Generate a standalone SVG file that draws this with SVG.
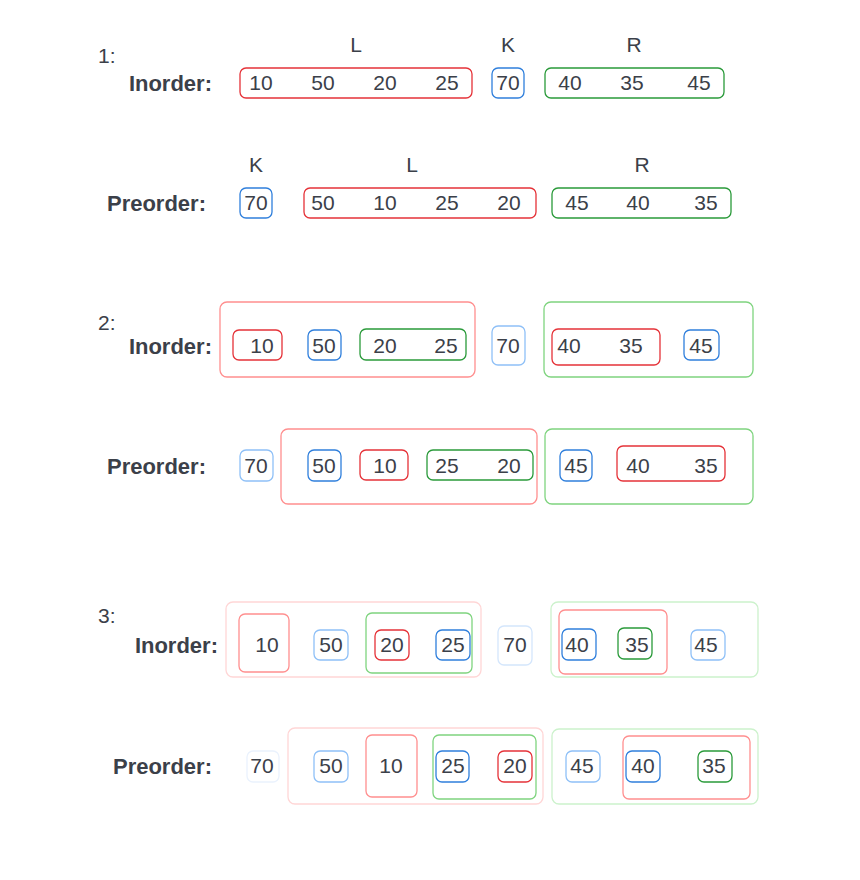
<svg xmlns="http://www.w3.org/2000/svg" width="860" height="880" viewBox="0 0 860 880">
<style>
text{font-family:"Liberation Sans",Arial,sans-serif;fill:#3b4049}
.n{font-size:21px;text-anchor:middle}
.lab{font-size:22px;font-weight:bold;text-anchor:end}
.h{font-size:21px;text-anchor:middle}
.s{font-size:21px}
rect{fill:none;stroke-width:1.3}
.r{stroke:#e53238}
.b{stroke:#2f7fdc}
.g{stroke:#2a9a3a}
.r2{stroke:#ff8f8f}
.b2{stroke:#8fc0f7}
.g2{stroke:#7fd47f}
.r3{stroke:#ffd6d6}
.b3{stroke:#d4e6fc}
.g3{stroke:#ccf2cc}
.b4{stroke:#eaf2fd}
</style>
<rect width="860" height="880" fill="#fff" stroke="none"/>

<g id="step1">
  <text class="s" x="98" y="63">1:</text>
  <text class="h" x="356" y="52">L</text>
  <text class="h" x="508" y="52">K</text>
  <text class="h" x="634" y="52">R</text>
  <text class="lab" x="212" y="91">Inorder:</text>
  <g id="s1-in-L"><rect class="r" x="240" y="68" width="232" height="30" rx="6"/>
    <text class="n" x="261" y="90">10</text><text class="n" x="323" y="90">50</text><text class="n" x="385" y="90">20</text><text class="n" x="447" y="90">25</text></g>
  <g id="s1-in-K"><rect class="b" x="492" y="68" width="32" height="30" rx="6"/><text class="n" x="508" y="90">70</text></g>
  <g id="s1-in-R"><rect class="g" x="545" y="68" width="179" height="30" rx="6"/>
    <text class="n" x="570" y="90">40</text><text class="n" x="632" y="90">35</text><text class="n" x="699" y="90">45</text></g>

  <text class="h" x="256" y="172">K</text>
  <text class="h" x="412" y="172">L</text>
  <text class="h" x="642" y="172">R</text>
  <text class="lab" x="206" y="211">Preorder:</text>
  <g id="s1-pre-K"><rect class="b" x="240" y="188" width="32" height="30" rx="6"/><text class="n" x="256" y="210">70</text></g>
  <g id="s1-pre-L"><rect class="r" x="304" y="188" width="232" height="30" rx="6"/>
    <text class="n" x="323" y="210">50</text><text class="n" x="385" y="210">10</text><text class="n" x="447" y="210">25</text><text class="n" x="509" y="210">20</text></g>
  <g id="s1-pre-R"><rect class="g" x="552" y="188" width="179" height="30" rx="6"/>
    <text class="n" x="577" y="210">45</text><text class="n" x="638" y="210">40</text><text class="n" x="706" y="210">35</text></g>
</g>

<g id="step2">
  <text class="s" x="98" y="330">2:</text>
  <text class="lab" x="212" y="354">Inorder:</text>
  <rect class="r2" x="220" y="302" width="255" height="75" rx="7"/>
  <g id="s2-in-10"><rect class="r" x="233" y="330" width="49" height="30" rx="6"/><text class="n" x="262" y="353">10</text></g>
  <g id="s2-in-50"><rect class="b" x="308" y="330" width="33" height="30" rx="6"/><text class="n" x="324" y="353">50</text></g>
  <g id="s2-in-2025"><rect class="g" x="360" y="329" width="106" height="31" rx="6"/><text class="n" x="385" y="353">20</text><text class="n" x="446" y="353">25</text></g>
  <g id="s2-in-70"><rect class="b2" x="492" y="326" width="33" height="39" rx="6"/><text class="n" x="508" y="353">70</text></g>
  <rect class="g2" x="544" y="302" width="209" height="75" rx="7"/>
  <g id="s2-in-4035"><rect class="r" x="552" y="329" width="108" height="36" rx="6"/><text class="n" x="569" y="353">40</text><text class="n" x="631" y="353">35</text></g>
  <g id="s2-in-45"><rect class="b" x="684" y="330" width="35" height="30" rx="6"/><text class="n" x="701" y="353">45</text></g>

  <text class="lab" x="206" y="474">Preorder:</text>
  <g id="s2-pre-70"><rect class="b2" x="240" y="450" width="33" height="31" rx="6"/><text class="n" x="256" y="473">70</text></g>
  <rect class="r2" x="281" y="429" width="256" height="75" rx="7"/>
  <g id="s2-pre-50"><rect class="b" x="308" y="450" width="33" height="31" rx="6"/><text class="n" x="324" y="473">50</text></g>
  <g id="s2-pre-10"><rect class="r" x="360" y="450" width="48" height="30" rx="6"/><text class="n" x="385" y="473">10</text></g>
  <g id="s2-pre-2520"><rect class="g" x="427" y="450" width="106" height="30" rx="6"/><text class="n" x="447" y="473">25</text><text class="n" x="509" y="473">20</text></g>
  <rect class="g2" x="545" y="429" width="208" height="75" rx="7"/>
  <g id="s2-pre-45"><rect class="b" x="560" y="450" width="32" height="31" rx="6"/><text class="n" x="576" y="473">45</text></g>
  <g id="s2-pre-4035"><rect class="r" x="617" y="446" width="108" height="35" rx="6"/><text class="n" x="638" y="473">40</text><text class="n" x="706" y="473">35</text></g>
</g>

<g id="step3">
  <text class="s" x="98" y="623">3:</text>
  <text class="lab" x="218" y="653">Inorder:</text>
  <rect class="r3" x="226" y="602" width="255" height="75" rx="7"/>
  <g id="s3-in-10"><rect class="r2" x="239" y="614" width="50" height="58" rx="6"/><text class="n" x="267" y="652">10</text></g>
  <g id="s3-in-50"><rect class="b2" x="314" y="630" width="34" height="30" rx="6"/><text class="n" x="331" y="652">50</text></g>
  <rect class="g2" x="366" y="613" width="106" height="60" rx="6"/>
  <g id="s3-in-20"><rect class="r" x="375" y="630" width="34" height="30" rx="6"/><text class="n" x="392" y="652">20</text></g>
  <g id="s3-in-25"><rect class="b" x="436" y="630" width="34" height="30" rx="6"/><text class="n" x="453" y="652">25</text></g>
  <g id="s3-in-70"><rect class="b3" x="498" y="626" width="34" height="39" rx="6"/><text class="n" x="515" y="652">70</text></g>
  <rect class="g3" x="551" y="602" width="207" height="75" rx="7"/>
  <rect class="r2" x="559" y="610" width="108" height="64" rx="6"/>
  <g id="s3-in-40"><rect class="b" x="562" y="629" width="34" height="31" rx="6"/><text class="n" x="577" y="652">40</text></g>
  <g id="s3-in-35"><rect class="g" x="618" y="628" width="34" height="31" rx="6"/><text class="n" x="637" y="652">35</text></g>
  <g id="s3-in-45"><rect class="b2" x="691" y="630" width="34" height="30" rx="6"/><text class="n" x="706" y="652">45</text></g>

  <text class="lab" x="212" y="774">Preorder:</text>
  <g id="s3-pre-70"><rect class="b4" x="247" y="751" width="32" height="31" rx="6"/><text class="n" x="262" y="773">70</text></g>
  <rect class="r3" x="288" y="728" width="255" height="76" rx="7"/>
  <g id="s3-pre-50"><rect class="b2" x="314" y="751" width="34" height="31" rx="6"/><text class="n" x="331" y="773">50</text></g>
  <g id="s3-pre-10"><rect class="r2" x="366" y="735" width="51" height="62" rx="6"/><text class="n" x="391" y="773">10</text></g>
  <rect class="g2" x="433" y="735" width="103" height="64" rx="6"/>
  <g id="s3-pre-25"><rect class="b" x="436" y="751" width="33" height="31" rx="6"/><text class="n" x="453" y="773">25</text></g>
  <g id="s3-pre-20"><rect class="r" x="498" y="751" width="34" height="31" rx="6"/><text class="n" x="515" y="773">20</text></g>
  <rect class="g3" x="552" y="729" width="206" height="75" rx="7"/>
  <g id="s3-pre-45"><rect class="b2" x="566" y="751" width="34" height="31" rx="6"/><text class="n" x="582" y="773">45</text></g>
  <rect class="r2" x="623" y="736" width="127" height="63" rx="6"/>
  <g id="s3-pre-40"><rect class="b" x="626" y="751" width="34" height="31" rx="6"/><text class="n" x="643" y="773">40</text></g>
  <g id="s3-pre-35"><rect class="g" x="698" y="751" width="34" height="31" rx="6"/><text class="n" x="714" y="773">35</text></g>
</g>
</svg>
